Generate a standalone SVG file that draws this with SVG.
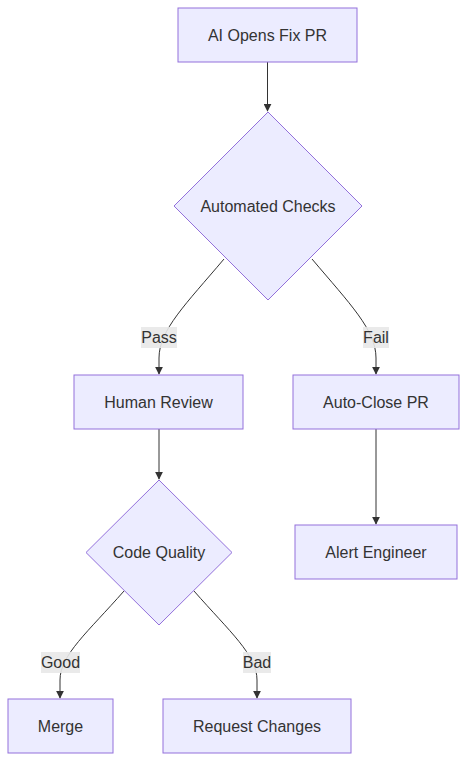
<svg xmlns="http://www.w3.org/2000/svg" width="467" height="762" viewBox="0 0 467 762">
<style>
.n{fill:#ECECFF;stroke:#9370DB;stroke-width:1}
.t{font-family:"Liberation Sans",Arial,sans-serif;font-size:16px;fill:#333;text-anchor:middle;dominant-baseline:central}
.e{fill:none;stroke:#333;stroke-width:1}
.lb{fill:#e8e8e8;opacity:0.9}
</style>
<defs>
<marker id="arr" viewBox="0 0 10 10" refX="9" refY="5" markerWidth="8" markerHeight="8" markerUnits="userSpaceOnUse" orient="auto">
<path d="M0,0 L10,5 L0,10 z" fill="#333"/>
</marker>
</defs>
<rect width="467" height="762" fill="#fff"/>
<g id="edges">
<path class="e" d="M267.5,62 L267.5,111" marker-end="url(#arr)"/>
<path class="e" d="M224,259 C186,304 159,330 159,358 L159,374" marker-end="url(#arr)"/>
<path class="e" d="M312,259 C350,304 376,330 376,358 L376,374" marker-end="url(#arr)"/>
<path class="e" d="M159,429 L159,479" marker-end="url(#arr)"/>
<path class="e" d="M376,429 L376,524" marker-end="url(#arr)"/>
<path class="e" d="M124,591 C88,632 60,655 60,680 L60,698" marker-end="url(#arr)"/>
<path class="e" d="M194,591 C230,632 257,655 257,680 L257,698" marker-end="url(#arr)"/>
</g>
<g id="edge-labels">
<rect class="lb" x="141" y="327" width="36" height="21"/><text class="t" x="159" y="337.5">Pass</text>
<rect class="lb" x="363" y="327" width="26" height="21"/><text class="t" x="376" y="337.5">Fail</text>
<rect class="lb" x="41" y="652" width="39" height="21"/><text class="t" x="60.5" y="662.5">Good</text>
<rect class="lb" x="243" y="652" width="28" height="21"/><text class="t" x="257" y="662.5">Bad</text>
</g>
<g id="node-A"><rect class="n" x="178" y="8" width="179" height="54"/><text class="t" x="267.5" y="35">AI Opens Fix PR</text></g>
<g id="node-B"><polygon class="n" points="268,112 362,206 268,300 174,206"/><text class="t" x="268" y="206">Automated Checks</text></g>
<g id="node-C"><rect class="n" x="74" y="375" width="169" height="54"/><text class="t" x="158.5" y="402">Human Review</text></g>
<g id="node-D"><rect class="n" x="293" y="375" width="166" height="54"/><text class="t" x="376" y="402">Auto-Close PR</text></g>
<g id="node-E"><polygon class="n" points="159,480 232,552.5 159,625 86,552.5"/><text class="t" x="159" y="552">Code Quality</text></g>
<g id="node-F"><rect class="n" x="295" y="525" width="162" height="54"/><text class="t" x="376" y="552">Alert Engineer</text></g>
<g id="node-G"><rect class="n" x="8" y="699" width="105" height="54"/><text class="t" x="60.5" y="726">Merge</text></g>
<g id="node-H"><rect class="n" x="163" y="699" width="188" height="54"/><text class="t" x="257" y="726">Request Changes</text></g>
</svg>
